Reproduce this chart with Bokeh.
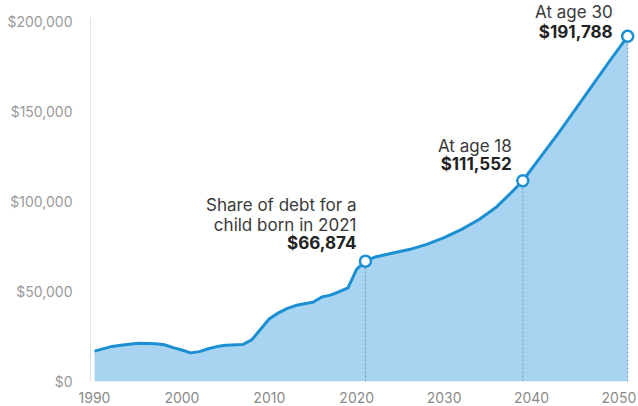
from bokeh.plotting import figure
from bokeh.models import ColumnDataSource, NumeralTickFormatter, FixedTicker, Range1d
from bokeh.core.properties import value
from bokeh.embed import file_html
from bokeh.resources import INLINE

# ---- data ----
years = [1990, 1992, 1993, 1995, 1997, 1998, 1999, 2000, 2001, 2002, 2003, 2004,
         2005, 2007, 2008, 2009, 2010, 2011, 2012, 2013, 2014, 2015, 2016, 2017,
         2018, 2019, 2020, 2021, 2022, 2024, 2026, 2028, 2030, 2032, 2034, 2036,
         2038, 2039, 2041, 2043, 2045, 2047, 2049, 2051]
debt_share = [16900, 19500, 20100, 21200, 21000, 20400, 18800, 17500, 15900, 16600, 18200, 19400,
              20100, 20600, 23200, 29000, 34900, 38000, 40500, 42200, 43200, 44000, 47000, 48000,
              50000, 52000, 62500, 66874, 69000, 71300, 73300, 76200, 80000, 84500, 90000, 97000,
              106500, 111552, 124500, 137500, 151000, 164800, 178500, 191788]

milestone_years = [2021, 2039, 2051]
milestone_values = [66874, 111552, 191788]
milestone_captions = [["Share of debt for a", "child born in 2021"], ["At age 18"], ["At age 30"]]
milestone_amounts = ["$66,874", "$111,552", "$191,788"]

x_ticks = [1990, 2000, 2010, 2020, 2030, 2040, 2050]
y_ticks = [0, 50000, 100000, 150000, 200000]

# ---- styling / layout ----
LINE = "#1b8fd2"
FILL = "#a9d4f1"
FONT = "Inter"
caption_offsets = [[(-9, -56), (-9, -36)], [(-11, -35)], [(-15, -24)]]
amount_offsets = [(-9, -18), (-11, -17), (-15, -4)]

p = figure(width=638, height=406, output_backend="svg", toolbar_location=None,
           x_range=Range1d(1989.54, 2052.24), y_range=Range1d(0, 211700),
           min_border_left=90, min_border_right=0, min_border_top=0, min_border_bottom=25)
p.outline_line_color = None
p.xgrid.grid_line_color = None
p.ygrid.grid_line_color = None
p.background_fill_color = "white"
p.border_fill_color = "white"

src = ColumnDataSource(dict(x=years, y=debt_share, y0=[0] * len(years)))
p.varea(x="x", y1="y0", y2="y", source=src, fill_color=FILL, fill_alpha=1)
p.segment(x0=milestone_years, y0=[0] * len(milestone_years), x1=milestone_years,
          y1=milestone_values, line_color="#6a9cc4", line_width=1, line_dash="2 2")
p.line(x="x", y="y", source=src, line_color=LINE, line_width=3, line_join="round")
p.scatter(x=milestone_years, y=milestone_values, size=11, fill_color="white",
          line_color=LINE, line_width=2.5)

# captions
cx, cy, ct, cxo, cyo = [], [], [], [], []
for yr, v, caps, offs in zip(milestone_years, milestone_values, milestone_captions, caption_offsets):
    for c, (xo, yo) in zip(caps, offs):
        cx.append(yr); cy.append(v); ct.append(c); cxo.append(xo); cyo.append(yo)
p.text(x=cx, y=cy, text=ct, x_offset=cxo, y_offset=cyo, text_align="right",
       text_baseline="middle", text_font=value(FONT), text_font_size="17px",
       text_color="#3a3a3a")
p.text(x=milestone_years, y=milestone_values, text=milestone_amounts,
       x_offset=[o[0] for o in amount_offsets], y_offset=[o[1] for o in amount_offsets],
       text_align="right", text_baseline="middle", text_font=value(FONT),
       text_font_size="17px", text_font_style="bold", text_color="#222222")

# axes
xa = p.xaxis[0]
xa.ticker = FixedTicker(ticks=x_ticks)
xa.axis_line_color = None
xa.major_tick_line_color = None
xa.minor_tick_line_color = None
xa.major_label_text_font = FONT
xa.major_label_text_font_size = "14px"
xa.major_label_text_color = "#8a8a8a"
xa.major_label_standoff = 4

ya = p.yaxis[0]
ya.ticker = FixedTicker(ticks=y_ticks)
ya.formatter = NumeralTickFormatter(format="$0,0")
ya.bounds = (0, 202500)
ya.axis_line_color = "#e2e2e2"
ya.axis_line_width = 1
ya.major_tick_line_color = None
ya.minor_tick_line_color = None
ya.major_label_text_font = FONT
ya.major_label_text_font_size = "14px"
ya.major_label_text_color = "#9a9a9a"
ya.major_label_standoff = 12

open("out.html", "w").write(file_html(p, INLINE))
